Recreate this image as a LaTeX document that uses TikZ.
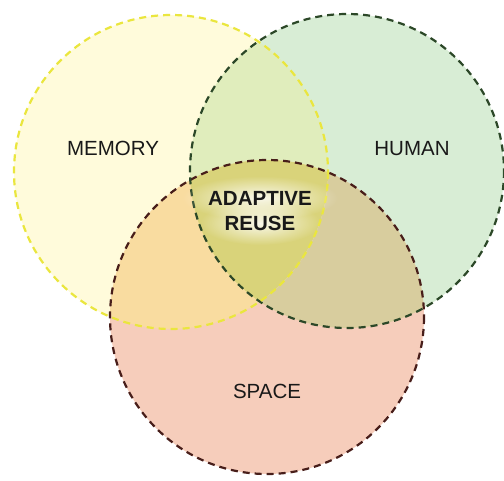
\documentclass[tikz,border=0pt]{standalone}
\usepackage{fontspec}
\setsansfont{Liberation Sans}
\usetikzlibrary{fadings}
\definecolor{memfill}{RGB}{255,251,219}
\definecolor{humfill}{RGB}{216,237,213}
\definecolor{spcfill}{RGB}{246,205,187}
\definecolor{memhum}{RGB}{224,237,188}
\definecolor{memspc}{RGB}{249,220,160}
\definecolor{humspc}{RGB}{216,205,158}
\definecolor{allfill}{RGB}{217,211,122}
\definecolor{memline}{RGB}{234,230,62}
\definecolor{humline}{RGB}{44,72,40}
\definecolor{spcline}{RGB}{72,30,26}
\tikzfading[name=softglow, inner color=transparent!15, outer color=transparent!100]
\tikzset{
  ring/.style={line width=2.2pt, dash pattern=on 7pt off 5pt},
  word/.style={font=\sffamily\fontsize{20.5}{25}\selectfont, text=black!90, anchor=base},
  core/.style={font=\sffamily\bfseries\fontsize{20.5}{25}\selectfont, align=center, text=black!90}
}
\begin{document}
\begin{tikzpicture}[x=1pt, y=-1pt]
  \useasboundingbox[fill=white] (0,0) rectangle (504,480);
  \coordinate (memory) at (171,172);
  \coordinate (human) at (347,171);
  \coordinate (space) at (267,317);
  % plain discs
  \fill[memfill] (memory) circle (157);
  \fill[humfill] (human) circle (157);
  \fill[spcfill] (space) circle (157);
  % overlaps
  \begin{scope}
    \clip (human) circle (157);
    \fill[humspc] (space) circle (157);
  \end{scope}
  \begin{scope}
    \clip (memory) circle (157);
    \fill[memhum] (human) circle (157);
    \fill[memspc] (space) circle (157);
    \clip (human) circle (157);
    \fill[allfill] (space) circle (157);
  \end{scope}
  % dashed outlines
  \draw[ring, spcline] (space) circle (157);
  \draw[ring, humline] (human) circle (157);
  \draw[ring, memline] (memory) circle (157);
  % soft halo behind the centre words
  \fill[white, path fading=softglow] (260,198) ellipse (78 and 22);
  \fill[white, path fading=softglow] (260,223) ellipse (60 and 22);
  % labels
  \node[word] (memlabel) at (113,155) {MEMORY};
  \node[word] (humlabel) at (412,155) {HUMAN};
  \node[word] (spclabel) at (267,398) {SPACE};
  \node[core] (corelabel) at (260,211) {ADAPTIVE\\REUSE};
\end{tikzpicture}
\end{document}
